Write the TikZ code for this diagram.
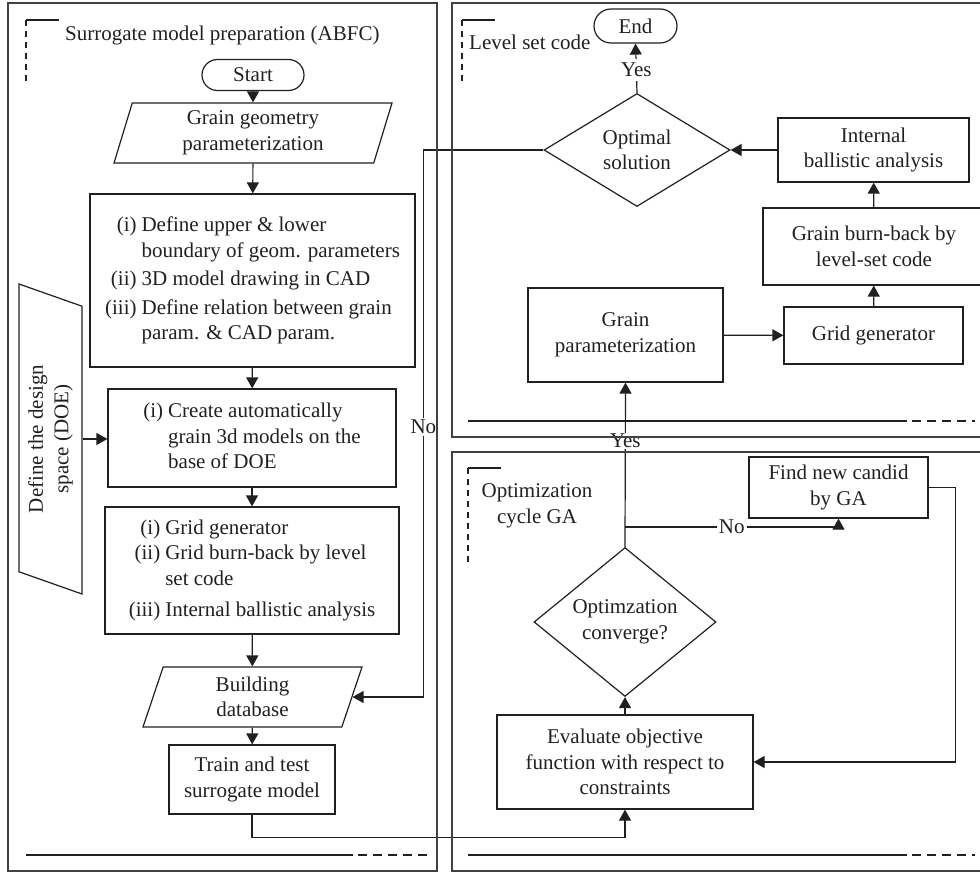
\documentclass[tikz,border=0pt]{standalone}
\usepackage{fontspec}
\setmainfont{Liberation Serif}
\usetikzlibrary{shapes.geometric,shapes.misc,arrows.meta,calc}
\definecolor{ink}{HTML}{231F20}

\tikzset{
  base/.style={draw=ink, text=ink, line width=1.2pt, inner sep=0pt, align=center,
    font=\fontsize{21}{25.5}\selectfont},
  process/.style={base, rectangle},
  terminal/.style={base, rounded rectangle},
  inout/.style={base, trapezium, trapezium stretches body},
  decision/.style={base, diamond},
  flow/.style={draw=ink, line width=1.2pt, -{Triangle[length=11pt,width=12pt]}},
  link/.style={draw=ink, line width=1.2pt},
  frame/.style={draw=ink!85, line width=1.2pt},
  tag/.style={fill=white, text=ink, inner sep=2pt, font=\fontsize{21}{25.5}\selectfont},
  caption/.style={text=ink, inner sep=0pt, align=center, font=\fontsize{21}{25.5}\selectfont},
}

\begin{document}
\begin{tikzpicture}[x=1pt,y=-1pt]
  \useasboundingbox (0,0) rectangle (980,872);

  % surrogate model preparation
  \node [terminal, minimum width=102pt, minimum height=31pt] (start) at (253,75) {Start};
  \node [inout, trapezium left angle=67.4, trapezium right angle=112.6,
         minimum width=278pt, minimum height=60pt] (geom) at (253,133)
        {Grain geometry\\parameterization};
  \node [process, minimum width=325pt, minimum height=173pt] (bounds) at (252.5,280.5)
        {\begin{tabular}{@{}r@{\hspace{5pt}}l@{}}
          (i) & Define upper \& lower\\
              & boundary of geom. parameters\\[3pt]
          (ii) & 3D model drawing in CAD\\[3pt]
          (iii) & Define relation between grain\\
                & param. \& CAD param.
         \end{tabular}};
  \node [process, minimum width=288pt, minimum height=98pt] (models) at (252,438)
        {\begin{tabular}{@{}r@{\hspace{5pt}}l@{}}
          (i) & Create automatically\\
              & grain 3d models on the\\
              & base of DOE
         \end{tabular}};
  \node [process, minimum width=294pt, minimum height=127pt] (burnin) at (252,570.5)
        {\begin{tabular}{@{}r@{\hspace{5pt}}l@{}}
          (i) & Grid generator\\
          (ii) & Grid burn-back by level\\
               & set code\\[6pt]
          (iii) & Internal ballistic analysis
         \end{tabular}};
  \node [inout, trapezium left angle=63.4, trapezium right angle=116.6,
         minimum width=219pt, minimum height=60pt] (db) at (252.5,697)
        {Building\\database};
  \node [process, minimum width=166pt, minimum height=69pt] (train) at (252,779.5)
        {Train and test\\surrogate model};
  \node [inout, rotate=90, trapezium left angle=63.6, trapezium right angle=116.4,
         minimum width=310pt, minimum height=63pt] (doe) at (50.5,439)
        {Define the design\\space (DOE)};

  % level set code
  \node [terminal, minimum width=83pt, minimum height=34pt] (stop) at (635.5,26) {End};
  \node [decision, minimum width=186pt, minimum height=113pt] (optimal) at (637,150)
        {Optimal\\solution};
  \node [process, minimum width=191pt, minimum height=64pt] (ballistic) at (873.5,150)
        {Internal\\ballistic analysis};
  \node [process, minimum width=222pt, minimum height=77pt] (burnback) at (874,246.5)
        {Grain burn-back by\\level-set code};
  \node [process, minimum width=179pt, minimum height=57pt] (grid) at (873.5,335.5)
        {Grid generator};
  \node [process, minimum width=195pt, minimum height=94pt] (param) at (625.5,335)
        {Grain\\parameterization};

  % optimization cycle
  \node [process, minimum width=179pt, minimum height=61pt] (candid) at (838.5,487.5)
        {Find new candid\\by GA};
  \node [decision, minimum width=182pt, minimum height=130pt] (converge) at (625,622)
        {Optimzation\\converge?};
  \node [process, minimum width=256pt, minimum height=94pt] (objective) at (625,762)
        {Evaluate objective\\function with respect to\\constraints};

  % connectors
  \draw [flow] (start) -- (geom);
  \draw [flow] (geom) -- (bounds);
  \draw [flow] (bounds) -- (models);
  \draw [flow] (models) -- (burnin);
  \draw [flow] (burnin) -- (db);
  \draw [flow] (db) -- (train);
  \draw [flow] (doe.south) -- (doe.south -| models.west);
  \draw [flow] (train.south) -- ++(0,23) -| (objective.south);
  \draw [flow] (objective) -- (converge);
  \draw [flow] (converge.north) -- node [tag, pos=0.646, inner sep=1pt] {Yes} (param.south);
  \coordinate (branch) at ($(converge.north)+(0,-20)$);
  \draw [flow] (branch) -- node [tag] {No} (branch -| candid.south) -- (candid.south);
  \draw [flow] (candid.east) -- ++(27,0) |- (objective.east);
  \draw [flow] (param) -- (grid);
  \draw [flow] (grid) -- (burnback);
  \draw [flow] (burnback) -- (ballistic);
  \draw [flow] (ballistic) -- (optimal);
  \draw [flow] (optimal.north) -- node [tag, pos=0.47, inner sep=4pt] {Yes} (stop.south);
  \draw [flow] (optimal.west) -- ++(-120,0) |- node [tag, pos=0.253] {No} (db.east);

  % frames
  \draw [frame] (8,3) rectangle (437,871);
  \draw [frame] (980,3) -| (452,437) -- (980,437);
  \draw [frame] (980,452) -| (452,871) -- (980,871);
  \draw [link] (59,20) -- (26,20);
  \draw [link, dash pattern=on 6pt off 5pt] (26,20) -- (26,85);
  \draw [link] (26,855) -- (353,855);
  \draw [link, dash pattern=on 9pt off 6pt] (358,855) -- (428,855);
  \draw [link] (495,20) -- (462,20);
  \draw [link, dash pattern=on 6pt off 5pt] (462,20) -- (462,85);
  \draw [link] (468,421) -- (907,421);
  \draw [link, dash pattern=on 9pt off 6pt] (912,421) -- (975,421);
  \draw [link] (501,468) -- (468,468);
  \draw [link, dash pattern=on 6pt off 5pt] (468,468) -- (468,567);
  \draw [link] (468,855) -- (907,855);
  \draw [link, dash pattern=on 9pt off 6pt] (912,855) -- (975,855);
  \node [caption, anchor=base west] (prep) at (65,41) {Surrogate model preparation (ABFC)};
  \node [caption, anchor=base west] (levelset) at (469,50) {Level set code};
  \node [caption] (cycle) at (537,506) {Optimization\\cycle GA};
\end{tikzpicture}
\end{document}
